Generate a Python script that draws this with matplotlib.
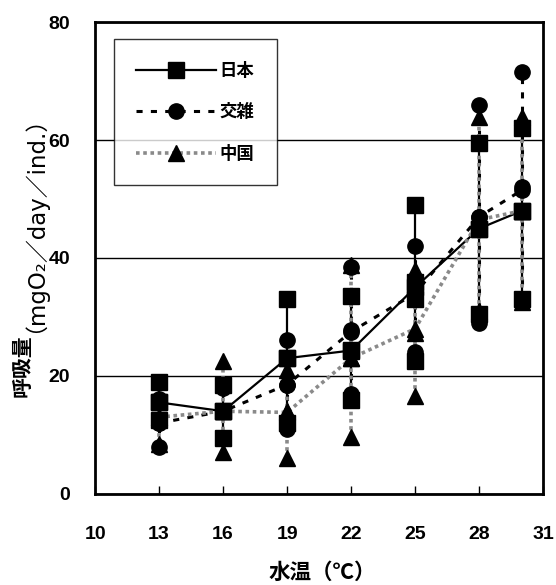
import numpy as np
import matplotlib.pyplot as plt

plt.rcParams['font.family'] = ['Liberation Sans', 'Noto Sans CJK JP', 'DejaVu Sans']

# water temperature groups
temps = [13, 16, 19, 22, 25, 28, 30]

# individual measurements (mgO2/day/ind.)
japan_pts = [[19, 15.5, 12.5], [18.5, 14, 9.5], [33, 23, 12], [33.5, 24.4, 15.9],
             [49, 36, 33, 22.5], [59.5, 45, 30.5], [62, 48, 33]]
hybrid_pts = [[16, 12, 8], [14, 18], [26, 18.5, 11], [38.5, 27.8, 17],
              [42, 33, 24], [66, 47, 29], [71.5, 52, 33]]
china_pts = [[13, 8.5], [22.5, 14, 7], [21, 14, 6], [38.8, 23, 9.7],
             [38, 27.3, 16.5], [64, 47, 31], [64, 48, 32.5]]

# mean lines
japan_mean = [15.5, 14, 23, 24.3, 35, 45, 48]
hybrid_mean = [12, 14, 18.5, 27.5, 34, 47, 51.5]
china_mean = [13, 14, 13.8, 23, 28, 46.5, 48]

fig = plt.figure(figsize=(5.56, 5.85), dpi=100)
ax = fig.add_axes([0.171, 0.156, 0.806, 0.806])

styles = [
    ('日本', japan_pts, japan_mean, dict(color='black', linestyle='-', linewidth=1.6), 's', 11),
    ('交雑', hybrid_pts, hybrid_mean, dict(color='black', linestyle=(0, (2, 2.7)), linewidth=2.2), 'o', 11),
    ('中国', china_pts, china_mean, dict(color='#8a8a8a', linestyle=(0, (1, 1)), linewidth=2.6), '^', 11),
]

for name, pts, mean, ls, mk, ms in styles:
    for t, vals in zip(temps, pts):
        ax.plot([t, t], [min(vals), max(vals)], zorder=2, **ls)
        ax.plot([t] * len(vals), vals, linestyle='none', marker=mk, markersize=ms,
                color='black', zorder=3)
    ax.plot(temps, mean, marker=mk, markersize=ms, markerfacecolor='black',
            markeredgecolor='black', label=name, zorder=2.5, **ls)

ax.set_xlim(10, 31)
ax.set_ylim(0, 80)
ax.set_xticks([10, 13, 16, 19, 22, 25, 28, 31])
ax.set_yticks([0, 20, 40, 60, 80])
ax.yaxis.grid(True, color='black', linewidth=1)
ax.set_axisbelow(True)
for s in ax.spines.values():
    s.set_linewidth(2)
ax.tick_params(axis='x', direction='in', length=6, width=1, pad=23)
ax.tick_params(axis='y', direction='in', length=0, pad=18)
for lab in ax.get_xticklabels() + ax.get_yticklabels():
    lab.set_fontsize(14)
    lab.set_fontweight('bold')

leg = ax.legend(loc='upper left', bbox_to_anchor=(0.03, 0.975), frameon=True, fancybox=False,
                edgecolor='black', handlelength=4.6, labelspacing=1.35, borderpad=1.3,
                handletextpad=0.2, borderaxespad=0.3,
                prop={'family': ['Noto Sans CJK JP'], 'weight': 'bold', 'size': 12.5})
leg.get_frame().set_linewidth(1)

fig.text(0.04, 0.322, '呼吸量', rotation=90, ha='center', va='bottom', fontsize=15,
         fontweight='bold', family=['Noto Sans CJK JP', 'DejaVu Sans'])
fig.text(0.04, 0.43, '（mgO₂／day／ind.）', rotation=90, ha='center', va='bottom', fontsize=16.5,
         family=['DejaVu Sans', 'Noto Sans CJK JP'])
fig.text(0.58, 0.022, '水温（℃）', ha='center', va='center', fontsize=15.5,
         fontweight='bold', family=['Noto Sans CJK JP', 'DejaVu Sans'])

fig.savefig('out.png', dpi=100)
